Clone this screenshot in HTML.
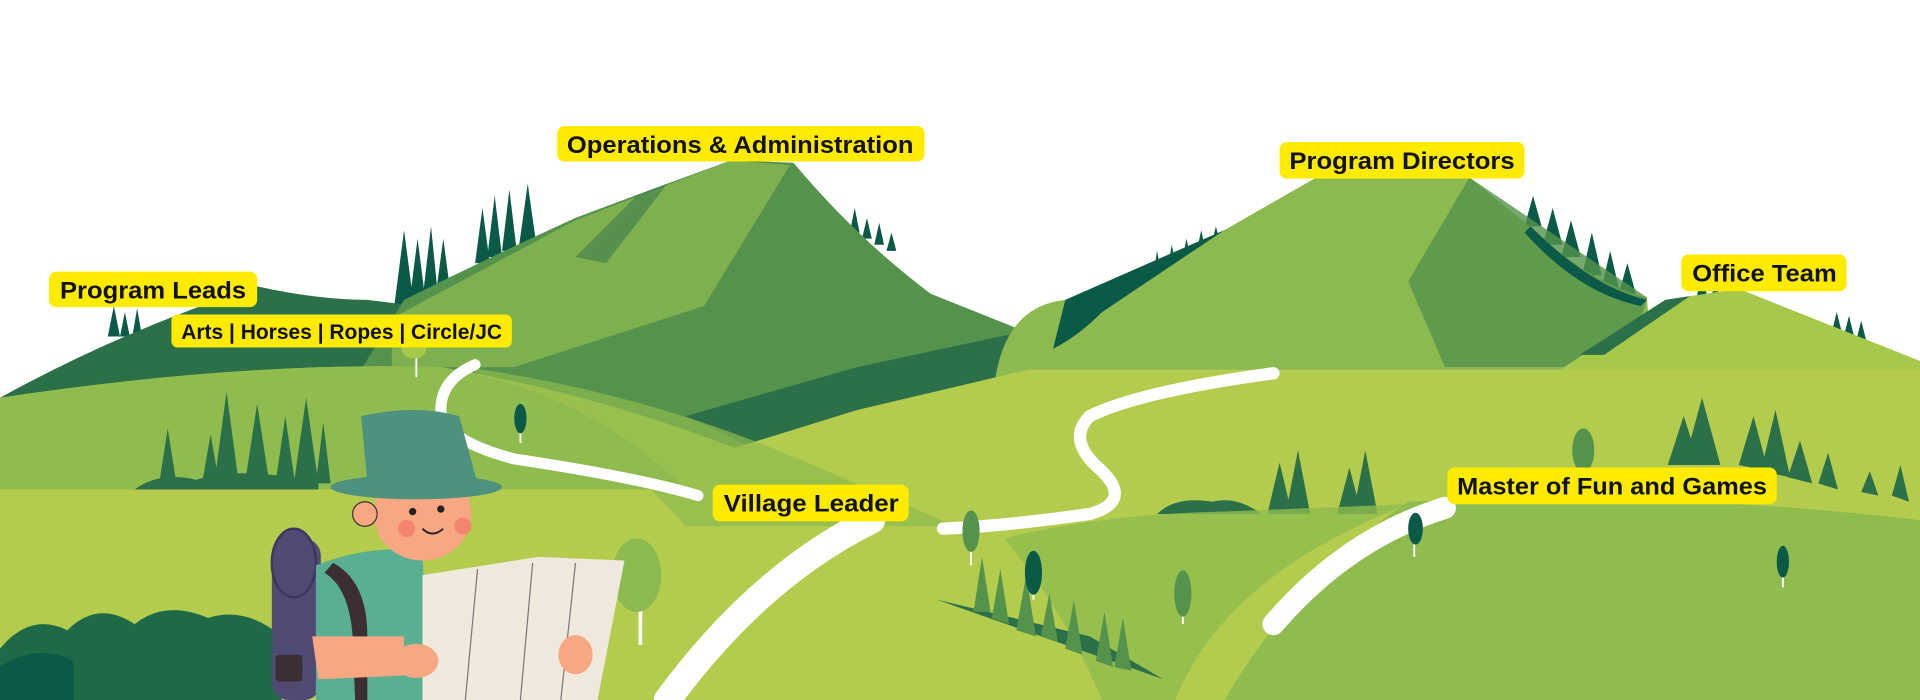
<!DOCTYPE html>
<html><head><meta charset="utf-8"><style>
html,body{margin:0;padding:0;background:#fff;width:1920px;height:700px;overflow:hidden}
svg{display:block}
text{font-family:"Liberation Sans",sans-serif;font-weight:bold;fill:#111}
</style></head><body>
<svg width="1920" height="700" viewBox="0 0 1568 572" preserveAspectRatio="none" xmlns="http://www.w3.org/2000/svg">
<rect width="1568" height="572" fill="#fff"/>
<g fill="#0b5a48">
<polygon points="88,275 93,250 98,275"/><polygon points="98,275 102,255 106,275"/><polygon points="108,275 112,252 116,275"/>
<polygon points="322,250 330,188 338,250"/><polygon points="334,250 341,195 348,250"/><polygon points="345,245 352,185 358,245"/><polygon points="356,240 362,195 368,240"/>
<polygon points="388,215 394,170 400,215"/><polygon points="398,210 404,160 410,210"/><polygon points="410,205 416,155 422,205"/><polygon points="424,200 431,150 438,200"/>
<polygon points="694,190 698,170 702,190"/><polygon points="704,195 708,178 712,195"/><polygon points="714,200 718,182 722,200"/><polygon points="724,205 728,190 732,205"/>
<polygon points="940,235 945,205 950,235"/><polygon points="952,228 957,200 962,228"/><polygon points="964,220 969,195 974,220"/><polygon points="976,212 981,188 986,212"/><polygon points="988,205 993,185 998,205"/>
<polygon points="1245,185 1252,160 1259,185"/><polygon points="1260,200 1268,170 1276,200"/><polygon points="1275,210 1283,180 1291,210"/><polygon points="1292,225 1300,190 1308,225"/><polygon points="1308,235 1315,205 1322,235"/><polygon points="1322,240 1329,215 1336,240"/>
<polygon points="1385,245 1390,225 1395,245"/><polygon points="1396,250 1401,228 1406,250"/><polygon points="1495,275 1500,255 1505,275"/><polygon points="1505,278 1510,258 1515,278"/><polygon points="1515,282 1520,262 1525,282"/>
</g>
<path d="M0,325 Q100,270 210,234 Q260,245 300,245 L340,250 L340,330 L0,330 Z" fill="#2c7049"/>
<path d="M290,310 L330,245 Q400,210 470,178 L545,150 L597,131 L648,133 Q700,195 760,240 L840,272 L840,320 L620,370 L400,330 Z" fill="#55924b"/>
<path d="M320,260 L470,180 L597,131 L645,135 L575,250 L420,300 L320,300 Z" fill="#8cba50" opacity=".75"/>
<path d="M470,210 L520,160 L545,150 L495,215 Z" fill="#2c7049" opacity=".5"/>
<path d="M560,340 L700,300 L840,270 L840,310 L620,368 Z" fill="#2c7049"/>
<path d="M812,315 Q820,250 870,245 L1000,188 L1075,145 L1200,145 L1255,190 Q1300,232 1345,243 L1350,315 Z" fill="#8cba50"/>
<path d="M1200,145 L1345,243 L1330,300 L1180,300 L1150,230 Z" fill="#55924b" opacity=".8"/>
<path d="M870,245 L1000,188 L900,255 Q880,275 860,285 Z" fill="#0b5a48"/>
<path d="M1250,185 Q1300,235 1345,245 L1340,250 Q1290,240 1245,190 Z" fill="#0b5a48"/>
<path d="M1270,305 L1360,245 L1420,236 L1568,295 L1568,315 Z" fill="#a6c84b"/>
<path d="M1290,290 L1360,245 L1380,242 L1310,290 Z" fill="#2c7049"/>
<path d="M0,325 Q200,295 360,300 Q480,320 600,366 L700,335 L840,302 L1568,302 L1568,572 L0,572 Z" fill="#b3cc4e"/>
<path d="M0,325 Q200,295 360,300 Q480,320 560,400 L0,400 Z" fill="#8fbb4f"/>
<path d="M380,300 Q520,320 640,370 Q700,395 780,430 L560,430 Q500,360 380,300 Z" fill="#8fbb4f" opacity=".7"/>
<g fill="#2c7049">
<path d="M110,400 Q130,385 160,392 Q200,380 260,395 L260,400 Z"/>
<polygon points="130,395 137,350 144,395"/><polygon points="165,395 172,355 179,395"/><polygon points="175,395 185,320 195,395"/><polygon points="200,395 210,330 220,395"/><polygon points="225,395 233,340 241,395"/><polygon points="240,395 250,325 260,395"/><polygon points="258,395 264,345 270,395"/>
</g>
<g fill="#2c7049">
<path d="M945,420 Q960,405 990,410 Q1010,405 1030,420 Z"/>
<polygon points="1035,420 1045,378 1055,420"/><polygon points="1050,420 1060,368 1070,420"/><polygon points="1092,420 1102,382 1112,420"/><polygon points="1105,420 1115,368 1125,420"/>
<ellipse cx="1293" cy="368" rx="9" ry="18" fill="#55924b"/>
<polygon points="1362,380 1375,340 1388,380"/><polygon points="1375,380 1390,325 1405,380"/><polygon points="1420,380 1432,340 1444,385"/><polygon points="1438,385 1450,335 1462,390"/><polygon points="1460,390 1470,360 1480,395"/><polygon points="1485,395 1493,370 1501,400"/><polygon points="1520,402 1527,385 1534,405"/><polygon points="1545,405 1552,380 1559,410"/>
</g>
<path d="M1150,410 Q1350,400 1568,425 L1568,572 L1000,572 Q1060,470 1150,410 Z" fill="#8fbb4f"/>
<path d="M820,440 Q900,420 1000,418 L1150,412 Q1000,470 960,572 L900,572 Q870,500 820,440 Z" fill="#8fbb4f" opacity=".8"/>
<path d="M765,490 L950,555 L890,520 Z" fill="#2c7049"/>
<g fill="#55924b"><polygon points="795,500 802,455 809,500"/><polygon points="810,505 817,465 824,510"/><polygon points="830,515 838,470 846,520"/><polygon points="850,520 857,485 864,525"/><polygon points="870,530 877,490 884,535"/><polygon points="895,540 902,500 909,545"/><polygon points="910,545 917,505 924,548"/></g>
<g fill="none" stroke="#fff" stroke-linecap="round">
<path d="M388,298 Q360,310 360,335 Q362,360 420,375 Q520,390 570,405" stroke-width="9"/>
<path d="M1040,305 Q930,320 890,340 Q870,360 900,385 Q925,410 890,420 Q820,430 770,432" stroke-width="10"/>
<path d="M712,425 Q620,470 545,572" stroke-width="22"/>
<path d="M1180,415 Q1100,440 1040,510" stroke-width="18"/>
</g>
<g><line x1="425" y1="345" x2="425" y2="362" stroke="#fff" stroke-width="1.5"/><ellipse cx="425" cy="342" rx="5" ry="12" fill="#0b5a48"/>
<line x1="844" y1="470" x2="844" y2="490" stroke="#fff" stroke-width="1.5"/><ellipse cx="844" cy="468" rx="7" ry="18" fill="#0b5a48"/>
<line x1="1155" y1="440" x2="1155" y2="455" stroke="#fff" stroke-width="1.5"/><ellipse cx="1156" cy="432" rx="6" ry="13" fill="#0b5a48"/>
<line x1="1456" y1="462" x2="1456" y2="480" stroke="#fff" stroke-width="1.5"/><ellipse cx="1456" cy="459" rx="5" ry="13" fill="#0b5a48"/>
<line x1="793" y1="445" x2="793" y2="462" stroke="#fff" stroke-width="1.5"/><ellipse cx="793" cy="434" rx="7" ry="17" fill="#55924b"/>
<line x1="966" y1="495" x2="966" y2="510" stroke="#fff" stroke-width="1.5"/><ellipse cx="966" cy="485" rx="7" ry="19" fill="#55924b"/>
<line x1="340" y1="290" x2="340" y2="308" stroke="#fff" stroke-width="1.5"/><ellipse cx="338" cy="285" rx="10" ry="8" fill="#a6c84b"/>
<line x1="523" y1="485" x2="523" y2="527" stroke="#fff" stroke-width="3"/><ellipse cx="520" cy="470" rx="20" ry="30" fill="#8cba50"/></g>
<path d="M0,572 L0,530 Q25,500 55,515 Q80,490 110,510 Q135,490 170,505 Q200,495 230,520 L230,572 Z" fill="#1f6a46"/>
<path d="M0,572 L0,545 Q30,525 60,540 L60,572 Z" fill="#0b5a48"/>
<g>
<rect x="222" y="440" width="40" height="132" rx="14" fill="#514a75"/>
<ellipse cx="240" cy="460" rx="18" ry="28" fill="#514a75" stroke="#3d3660" stroke-width="2"/>
<path d="M258,462 Q300,445 345,450 L350,572 L258,572 Z" fill="#5aae91"/>
<path d="M272,460 Q300,475 300,520 L300,572 L290,572 L288,520 Q285,480 265,468 Z" fill="#3c2f33"/>
<rect x="225" y="535" width="22" height="22" rx="3" fill="#3c2f33"/>
<ellipse cx="345" cy="420" rx="40" ry="38" fill="#f7a883"/>
<path d="M300,395 Q310,380 345,382 Q385,385 395,400 L380,395 Q350,385 315,400 Z" fill="#3c2f33"/>
<circle cx="298" cy="420" r="10" fill="#f7a883" stroke="#3c2f33" stroke-width="1"/>
<path d="M295,340 Q340,330 375,340 L390,395 L300,395 Z" fill="#4f917f"/>
<ellipse cx="340" cy="398" rx="70" ry="10" fill="#4f917f"/>
<circle cx="337" cy="418" r="3" fill="#222"/><circle cx="360" cy="416" r="3" fill="#222"/>
<circle cx="332" cy="432" r="7" fill="#f47b6b" opacity=".8"/><circle cx="378" cy="430" r="7" fill="#f47b6b" opacity=".8"/>
<path d="M345,432 Q353,440 362,432" fill="none" stroke="#222" stroke-width="1.5"/>
<path d="M345,470 L440,455 L510,458 L488,572 L345,572 Z" fill="#efe8dc"/>
<g stroke="#777" stroke-width="1"><line x1="390" y1="465" x2="380" y2="572"/><line x1="435" y1="460" x2="425" y2="572"/><line x1="470" y1="460" x2="458" y2="572"/></g>
<ellipse cx="340" cy="540" rx="18" ry="14" fill="#f7a883"/>
<ellipse cx="470" cy="535" rx="14" ry="16" fill="#f7a883"/>
<path d="M255,520 L330,520 L330,552 L260,555 Z" fill="#f7a883"/>
</g>
<g>
<rect x="455" y="103" width="300" height="29" rx="6" fill="#ffeb00"/><text x="463" y="125" font-size="20" textLength="283" lengthAdjust="spacingAndGlyphs">Operations &amp; Administration</text>
<rect x="40" y="222" width="170" height="29" rx="6" fill="#ffeb00"/><text x="49" y="244" font-size="20" textLength="152" lengthAdjust="spacingAndGlyphs">Program Leads</text>
<rect x="140" y="257" width="278" height="27" rx="5" fill="#ffeb00"/><text x="148" y="277" font-size="17" textLength="262" lengthAdjust="spacingAndGlyphs">Arts | Horses | Ropes | Circle/JC</text>
<rect x="1045" y="116" width="200" height="30" rx="6" fill="#ffeb00"/><text x="1053" y="138" font-size="20" textLength="184" lengthAdjust="spacingAndGlyphs">Program Directors</text>
<rect x="1373" y="208" width="135" height="30" rx="6" fill="#ffeb00"/><text x="1382" y="230" font-size="20" textLength="118" lengthAdjust="spacingAndGlyphs">Office Team</text>
<rect x="582" y="396" width="160" height="30" rx="6" fill="#ffeb00"/><text x="591" y="418" font-size="20" textLength="143" lengthAdjust="spacingAndGlyphs">Village Leader</text>
<rect x="1182" y="382" width="269" height="30" rx="6" fill="#ffeb00"/><text x="1190" y="404" font-size="20" textLength="253" lengthAdjust="spacingAndGlyphs">Master of Fun and Games</text>
</g>
</svg>
</body></html>
